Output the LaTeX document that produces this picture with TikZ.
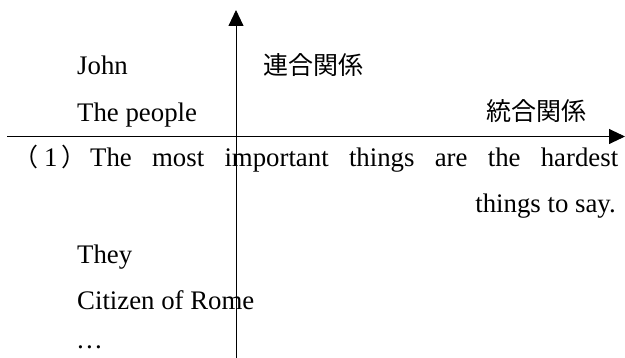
\documentclass[tikz,border=0pt]{standalone}
\usepackage{fontspec}
\setmainfont{Liberation Serif}
\newfontfamily\jp{Noto Sans CJK JP}
\usetikzlibrary{arrows.meta}
\tikzset{
  txt/.style={inner sep=0pt, font=\fontsize{26.8}{32}\selectfont},
  jtxt/.style={inner sep=0pt, font=\fontsize{25}{30}\selectfont\jp},
  axis/.style={line width=0.9pt, -{Triangle[length=16pt,width=15pt]}}
}
\begin{document}
\begin{tikzpicture}[x=1pt,y=-1pt]
\useasboundingbox (0,0) rectangle (625,358);
% axes
\coordinate (vbot) at (236,358);
\coordinate (vtop) at (236,10);
\coordinate (hleft) at (7,136.5);
\coordinate (hright) at (625,136.5);
\draw[axis] (vbot) -- (vtop);
\draw[axis] (hleft) -- (hright);
% upper left
\node[txt, anchor=base west] (john) at (77,75) {John};
\node[txt, anchor=base west] (people) at (77,122) {The people};
% labels
\node[jtxt] (rengo) at (313,65) {連合関係};
\node[jtxt] (togo) at (536,111) {統合関係};
% sentence
\node[txt, anchor=base west] (num) at (13,167) {{\fontsize{25}{30}\selectfont\jp （}\kern6pt 1\kern3.5pt{\fontsize{25}{30}\selectfont\jp ）}};
\node[txt, anchor=base west] (s1) at (90,167) {\makebox[528pt][s]{The most important things are the hardest}};
\node[txt, anchor=base east] (s2) at (616,213) {things to say.};
% lower left
\node[txt, anchor=base west] (they) at (77,264) {They};
\node[txt, anchor=base west] (citizen) at (77,310) {Citizen of Rome};
\node[txt, anchor=base west] (dots) at (76,349) {…};
\end{tikzpicture}
\end{document}
